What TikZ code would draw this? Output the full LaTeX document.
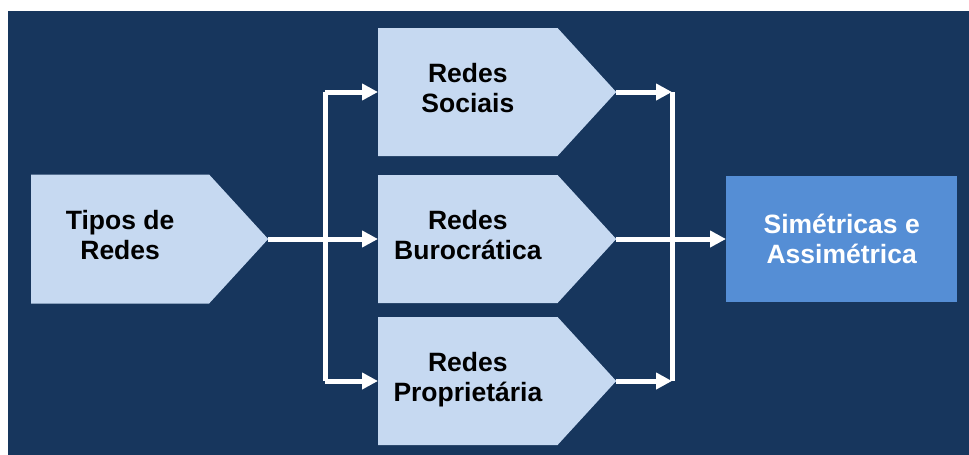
\documentclass[tikz,border=0pt]{standalone}
\usepackage{fontspec}
\setmainfont{Liberation Sans}
\usetikzlibrary{arrows.meta,shapes.symbols,calc}
\definecolor{marine}{HTML}{17365D}
\definecolor{hellblau}{HTML}{C6D9F1}
\definecolor{mittelblau}{HTML}{558ED5}
\tikzstyle{pfeilbox}=[signal, signal to=east, signal pointer angle=95, fill=hellblau,
  minimum width=238pt, minimum height=128pt, inner sep=0pt, anchor=west, text depth=9pt,
  align=center, font=\fontsize{26.5}{30}\selectfont\bfseries]
\tikzstyle{zielbox}=[rectangle, fill=mittelblau, minimum width=231pt, minimum height=126pt,
  anchor=west, align=center, text=white, font=\fontsize{26.5}{30}\selectfont\bfseries]
\tikzstyle{linie}=[draw=white, line width=5pt]
\tikzstyle{pfeil}=[linie, -{Triangle[length=16pt,width=16pt]}]

\begin{document}
\begin{tikzpicture}[x=1pt,y=-1pt]
			\useasboundingbox (0,0) rectangle (969,455);
			% Hintergrund zeichnen
			\fill[marine] (8,11) rectangle (969,455);
			% Kaesten zeichnen
			\node[pfeilbox, minimum width=237pt, minimum height=129pt] (tipos) at (31,239) {Tipos de\\Redes};
			\foreach \name/\y/\txt in {sociais/92/{Redes\\Sociais}, buro/239/{Redes\\Burocrática}, prop/381/{Redes\\Proprietária}}
				\node[pfeilbox] (\name) at (378,\y) {\txt};
			\node[zielbox] (sim) at (726,239) {Simétricas e\\Assimétrica};
			% Verzweigung links
			\coordinate (links) at ($(tipos.east)!0.52!(buro.west)$);
			\draw[linie] (links |- sociais.west) -- (links |- prop.west);
			\draw[pfeil] (tipos.east) -- (buro.west);
			\draw[pfeil] (links |- sociais.west) -- (sociais.west);
			\draw[pfeil] (links |- prop.west) -- (prop.west);
			% Zusammenfuehrung rechts
			\coordinate (rechts) at (672,0);
			\draw[linie] (rechts |- sociais.east) -- (rechts |- prop.east);
			\draw[pfeil] (sociais.east) -- (rechts |- sociais.east);
			\draw[pfeil] (prop.east) -- (rechts |- prop.east);
			\draw[pfeil] (buro.east) -- (sim.west);
		\end{tikzpicture}
\end{document}
